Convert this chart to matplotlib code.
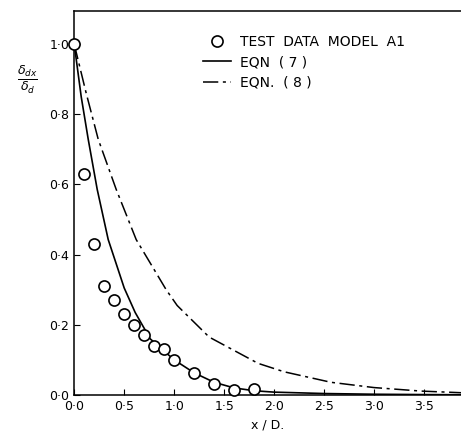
import matplotlib.pyplot as plt

# test data, model A1
test_x = [0.0, 0.1, 0.2, 0.3, 0.4, 0.5, 0.6, 0.7, 0.8, 0.9, 1.0, 1.2, 1.4, 1.6, 1.8]
test_y = [1.0, 0.63, 0.43, 0.31, 0.27, 0.23, 0.20, 0.17, 0.14, 0.13, 0.10, 0.063, 0.03, 0.015, 0.017]

# EQN (7)
eq7_x = [0.0, 0.07, 0.14, 0.23, 0.34, 0.50, 0.61, 0.76, 1.0, 1.2, 1.4, 1.6, 1.8, 2.0, 2.5, 3.0, 3.5, 3.9]
eq7_y = [1.0, 0.85, 0.729, 0.586, 0.443, 0.305, 0.235, 0.16, 0.10, 0.063, 0.036, 0.02, 0.012, 0.008, 0.004, 0.002, 0.001, 0.0005]

# EQN (8)
eq8_x = [0.0, 0.12, 0.24, 0.42, 0.62, 0.92, 1.03, 1.35, 1.84, 2.1, 2.57, 3.0, 3.47, 3.9]
eq8_y = [1.0, 0.86, 0.729, 0.586, 0.443, 0.30, 0.255, 0.165, 0.09, 0.066, 0.036, 0.021, 0.011, 0.006]

x_ticks = [0.0, 0.5, 1.0, 1.5, 2.0, 2.5, 3.0, 3.5]
x_tick_labels = ["0·0", "0·5", "1·0", "1·5", "2·0", "2·5", "3·0", "3·5"]
y_ticks = [0.0, 0.2, 0.4, 0.6, 0.8, 1.0]
y_tick_labels = ["0·0", "0·2", "0·4", "0·6", "0·8", "1·0"]

fig = plt.figure(figsize=(4.61, 4.34), dpi=100)
ax = fig.add_axes([0.161, 0.09, 0.839, 0.885])

ax.plot(eq7_x, eq7_y, color="black", lw=1.2, label="EQN  ( 7 )")
ax.plot(eq8_x, eq8_y, color="black", lw=1.1, dashes=(10, 3, 2, 3), label="EQN.  ( 8 )")
ax.plot(test_x, test_y, "o", ms=8, mfc="white", mec="black", mew=1.2,
        label="TEST  DATA  MODEL  A1", zorder=5, clip_on=False)

ax.set_xlim(0, 3.87)
ax.set_ylim(0, 1.095)
ax.set_xticks(x_ticks)
ax.set_xticklabels(x_tick_labels)
ax.set_yticks(y_ticks)
ax.set_yticklabels(y_tick_labels)
ax.tick_params(direction="in", length=4, labelsize=9, colors="black")
ax.spines["right"].set_visible(False)
for s in ["left", "bottom", "top"]:
    ax.spines[s].set_linewidth(1.1)

ax.set_xlabel("x / D.", fontsize=9)
fig.text(0.06, 0.815, r"$\frac{\delta_{dx}}{\delta_d}$", fontsize=13, ha="center", va="center")

h, l = ax.get_legend_handles_labels()
order = [2, 0, 1]
ax.legend([h[i] for i in order], [l[i] for i in order], loc="upper left",
          bbox_to_anchor=(0.30, 0.97), frameon=False, fontsize=10,
          handlelength=2.0, handletextpad=0.7, labelspacing=0.45)

fig.savefig("out.png", dpi=100)
